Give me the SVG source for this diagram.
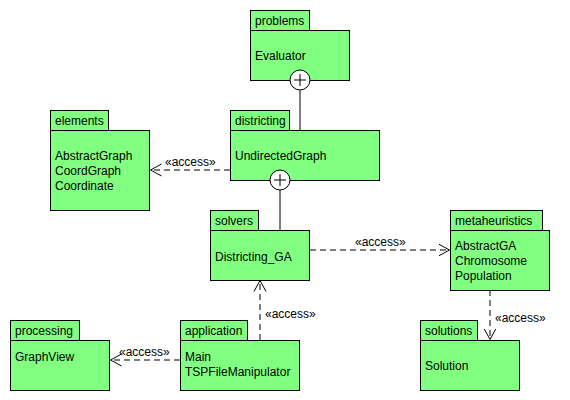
<svg xmlns="http://www.w3.org/2000/svg" width="570" height="400" viewBox="0 0 570 400">
<defs>
<marker id="open" viewBox="0 0 12 14" refX="11" refY="7" markerWidth="12" markerHeight="14" markerUnits="userSpaceOnUse" orient="auto">
<path d="M0,1 L11,7 L0,13" fill="none" stroke="#000" stroke-width="1"/>
</marker>
<style>
.box{fill:#80FF80;stroke:#000;stroke-width:1}
.t{font-family:"Liberation Sans",Arial,sans-serif;font-size:12px;fill:#000}
.dep{fill:none;stroke:#000;stroke-width:1;stroke-dasharray:6,4;marker-end:url(#open)}
.solid{fill:none;stroke:#000;stroke-width:1}
.circ{fill:#fff;stroke:#000;stroke-width:1}
</style>
</defs>
<rect width="570" height="400" fill="#fff"/>
<g id="connectors">
<line class="solid" x1="300" y1="90" x2="300" y2="130"/>
<line class="solid" x1="280" y1="190" x2="280" y2="230"/>
<line class="dep" x1="230" y1="170" x2="150.5" y2="170"/>
<text class="t" x="165" y="166">«access»</text>
<line class="dep" x1="310" y1="250" x2="449.5" y2="250"/>
<text class="t" x="355" y="246">«access»</text>
<line class="dep" x1="260" y1="340" x2="260" y2="280.5"/>
<text class="t" x="265" y="318">«access»</text>
<line class="dep" x1="180" y1="360" x2="110.5" y2="360"/>
<text class="t" x="119" y="356">«access»</text>
<line class="dep" x1="490" y1="290" x2="490" y2="339.5"/>
<text class="t" x="495" y="322">«access»</text>
</g>
<g id="problems">
<rect class="box" x="250.5" y="10.5" width="59" height="20"/>
<rect class="box" x="250.5" y="30.5" width="99" height="50"/>
<text class="t" x="255" y="25">problems</text>
<text class="t" x="255" y="60">Evaluator</text>
<circle class="circ" cx="300" cy="80" r="10"/>
<path class="solid" d="M294,80 H306 M300,74 V86"/>
</g>
<g id="districting">
<rect class="box" x="230.5" y="110.5" width="59" height="20"/>
<rect class="box" x="230.5" y="130.5" width="149" height="50"/>
<text class="t" x="235" y="125">districting</text>
<text class="t" x="235" y="160">UndirectedGraph</text>
<circle class="circ" cx="280" cy="180" r="10"/>
<path class="solid" d="M274,180 H286 M280,174 V186"/>
</g>
<g id="elements">
<rect class="box" x="50.5" y="110.5" width="58" height="20"/>
<rect class="box" x="50.5" y="130.5" width="99" height="80"/>
<text class="t" x="55" y="125">elements</text>
<text class="t" x="55" y="160">AbstractGraph</text>
<text class="t" x="55" y="175">CoordGraph</text>
<text class="t" x="55" y="190">Coordinate</text>
</g>
<g id="solvers">
<rect class="box" x="210.5" y="210.5" width="48" height="20"/>
<rect class="box" x="210.5" y="230.5" width="99" height="50"/>
<text class="t" x="215" y="225">solvers</text>
<text class="t" x="215" y="261">Districting_GA</text>
</g>
<g id="metaheuristics">
<rect class="box" x="450.5" y="210.5" width="92" height="20"/>
<rect class="box" x="450.5" y="230.5" width="99" height="60"/>
<text class="t" x="455" y="225">metaheuristics</text>
<text class="t" x="455" y="250">AbstractGA</text>
<text class="t" x="455" y="265">Chromosome</text>
<text class="t" x="455" y="280">Population</text>
</g>
<g id="solutions">
<rect class="box" x="420.5" y="320.5" width="57" height="20"/>
<rect class="box" x="420.5" y="340.5" width="99" height="50"/>
<text class="t" x="425" y="335">solutions</text>
<text class="t" x="425" y="370">Solution</text>
</g>
<g id="processing">
<rect class="box" x="10.5" y="320.5" width="69" height="20"/>
<rect class="box" x="10.5" y="340.5" width="99" height="50"/>
<text class="t" x="15" y="335">processing</text>
<text class="t" x="15" y="361">GraphView</text>
</g>
<g id="application">
<rect class="box" x="180.5" y="320.5" width="67" height="20"/>
<rect class="box" x="180.5" y="340.5" width="119" height="50"/>
<text class="t" x="185" y="335">application</text>
<text class="t" x="185" y="361">Main</text>
<text class="t" x="185" y="376">TSPFileManipulator</text>
</g>
</svg>
